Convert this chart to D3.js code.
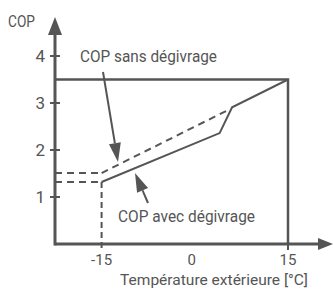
<html>
<head>
<meta charset="UTF-8"/>
<script src="https://cdn.jsdelivr.net/npm/d3@7"></script>
<style>
body { margin:0; background:#fff; }
text { font-family: Roboto, "DejaVu Sans Condensed", sans-serif; fill:#555; }
</style>
</head>
<body>
<script>
// valeurs
const tempTicks = [-15, 0, 15];
const copTicks = [1, 2, 3, 4];
const avecTemp = [-15, 4, 6, 15];      // COP avec dégivrage
const avecCop  = [1.32, 2.36, 2.91, 3.5];
const sansTemp = [-15, 5.5];           // COP sans dégivrage
const sansCop  = [1.51, 2.86];
const copMax = 3.5;                    // cadre à 15 °C

const width = 333, height = 289;
const col = "#555";

const x = d3.scaleLinear().domain([-22.5, 15]).range([55, 288]);
const y = d3.scaleLinear().domain([0, 4]).range([244, 56]);

const svg = d3.select("body").append("svg")
	.attr("width", width)
	.attr("height", height);

const line = d3.line().x(d => x(d[0])).y(d => y(d[1]));

// cadre COP max
svg.append("path")
	.attr("d", line([[-22.5, copMax], [15, copMax], [15, 0]]))
	.attr("fill", "none").attr("stroke", col).attr("stroke-width", 2.5);
svg.append("line")
	.attr("x1", x(15)).attr("x2", x(15)).attr("y1", y(0)).attr("y2", y(0) + 6)
	.attr("stroke", col).attr("stroke-width", 2);

// pointillés de repère
const dashStyle = "7,5";
svg.append("path")
	.attr("d", line([[-22.5, sansCop[0]], [-15, sansCop[0]]]))
	.attr("fill", "none").attr("stroke", col).attr("stroke-width", 2).attr("stroke-dasharray", dashStyle);
svg.append("path")
	.attr("d", line([[-22.5, avecCop[0]], [-15, avecCop[0]]]))
	.attr("fill", "none").attr("stroke", col).attr("stroke-width", 2).attr("stroke-dasharray", dashStyle);
svg.append("line")
	.attr("x1", x(-15)).attr("x2", x(-15)).attr("y1", y(avecCop[0])).attr("y2", y(0) + 5)
	.attr("stroke", col).attr("stroke-width", 2).attr("stroke-dasharray", "6,4");

// courbes
svg.append("path")
	.attr("d", line(sansTemp.map((t, i) => [t, sansCop[i]])))
	.attr("fill", "none").attr("stroke", col).attr("stroke-width", 2).attr("stroke-dasharray", dashStyle);
svg.append("path")
	.attr("d", line(avecTemp.map((t, i) => [t, avecCop[i]])))
	.attr("fill", "none").attr("stroke", col).attr("stroke-width", 2);

// axes
svg.append("line").attr("x1", 55).attr("x2", 55).attr("y1", 30).attr("y2", y(0) + 1.5)
	.attr("stroke", col).attr("stroke-width", 3);
svg.append("line").attr("x1", 55).attr("x2", 320).attr("y1", y(0)).attr("y2", y(0))
	.attr("stroke", col).attr("stroke-width", 3);
svg.append("path").attr("d", "M55,17L62,35L48,35Z").attr("fill", col);
svg.append("path").attr("d", "M333,244L318,238L318,250Z").attr("fill", col);

svg.selectAll(".ytick").data(copTicks).enter().append("line")
	.attr("x1", 50).attr("x2", 60).attr("y1", d => y(d)).attr("y2", d => y(d))
	.attr("stroke", col).attr("stroke-width", 2);
svg.selectAll(".ylab").data(copTicks).enter().append("text")
	.attr("x", 45).attr("y", d => y(d) + 6)
	.attr("text-anchor", "end").attr("font-size", 17)
	.text(d => d);
svg.selectAll(".xlab").data(tempTicks).enter().append("text")
	.attr("x", d => x(d) - (d === 0 ? 3 : 0)).attr("y", 265)
	.attr("text-anchor", "middle").attr("font-size", 15)
	.text(d => d);

svg.append("text").attr("x", 8).attr("y", 27).attr("font-size", 17)
	.attr("textLength", 27).attr("lengthAdjust", "spacingAndGlyphs").text("COP");
svg.append("text").attr("x", 120).attr("y", 285).attr("font-size", 15)
	.attr("textLength", 188).attr("lengthAdjust", "spacingAndGlyphs")
	.text("Température extérieure [°C]");

// annotations
svg.append("text").attr("x", 80).attr("y", 62).attr("font-size", 17)
	.attr("textLength", 137).attr("lengthAdjust", "spacingAndGlyphs").text("COP sans dégivrage");
svg.append("text").attr("x", 118).attr("y", 222).attr("font-size", 17)
	.attr("textLength", 137).attr("lengthAdjust", "spacingAndGlyphs").text("COP avec dégivrage");

function arrow(x1, y1, x2, y2) {
	const a = Math.atan2(y2 - y1, x2 - x1);
	const L = 19, w = 6;
	const bx = x2 - L * Math.cos(a), by = y2 - L * Math.sin(a);
	svg.append("line").attr("x1", x1).attr("y1", y1).attr("x2", bx).attr("y2", by)
		.attr("stroke", col).attr("stroke-width", 2);
	svg.append("path")
		.attr("d", "M" + x2 + "," + y2 +
			"L" + (bx + w * Math.sin(a)) + "," + (by - w * Math.cos(a)) +
			"L" + (bx - w * Math.sin(a)) + "," + (by + w * Math.cos(a)) + "Z")
		.attr("fill", col);
}
arrow(103, 72, 118, 162);
arrow(148, 203, 135, 173);
</script>
</body>
</html>
